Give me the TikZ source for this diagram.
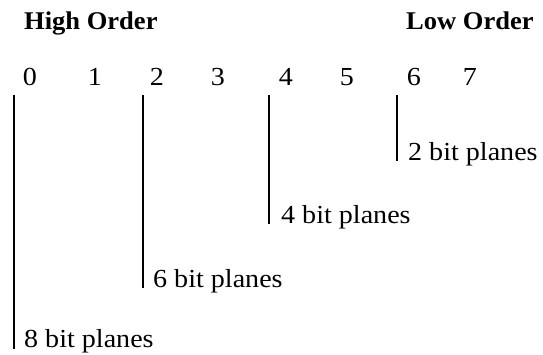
\documentclass[tikz,border=0pt]{standalone}
\usepackage{fontspec}
\setmainfont{Liberation Serif}[FakeStretch=1.08, BoldFeatures={FakeStretch=1.04}]
\begin{document}
\begin{tikzpicture}[x=1pt,y=-1pt,
  txt/.style={inner sep=0pt, anchor=base west, font=\fontsize{26}{30}\selectfont},
  head/.style={inner sep=0pt, anchor=base west, font=\fontsize{25.5}{30}\selectfont\bfseries},
  digit/.style={inner sep=0pt, anchor=base, font=\fontsize{26}{30}\selectfont},
  bar/.style={line width=1.6pt}]
\useasboundingbox (0,0) rectangle (543,354);
\node[head] (high) at (24,29) {High Order};
\node[head] (low) at (406,29) {Low Order};
\node[digit] (d0) at (30,85) {0};
\node[digit] (d1) at (95,85) {1};
\node[digit] (d2) at (157,85) {2};
\node[digit] (d3) at (218,85) {3};
\node[digit] (d4) at (286,85) {4};
\node[digit] (d5) at (347,85) {5};
\node[digit] (d6) at (414,85) {6};
\node[digit] (d7) at (470,85) {7};
\node[txt] (p2) at (408,160) {2 bit planes};
\node[txt] (p4) at (281,223) {4 bit planes};
\node[txt] (p6) at (153,287) {6 bit planes};
\node[txt] (p8) at (24,347) {8 bit planes};
\coordinate (t8) at (14,95);  \coordinate (b8) at (14,349);
\coordinate (t6) at (143,95); \coordinate (b6) at (143,288);
\coordinate (t4) at (269,95); \coordinate (b4) at (269,224);
\coordinate (t2) at (397,95); \coordinate (b2) at (397,161);
\draw[bar] (t8) -- (b8);
\draw[bar] (t6) -- (b6);
\draw[bar] (t4) -- (b4);
\draw[bar] (t2) -- (b2);
\end{tikzpicture}
\end{document}
